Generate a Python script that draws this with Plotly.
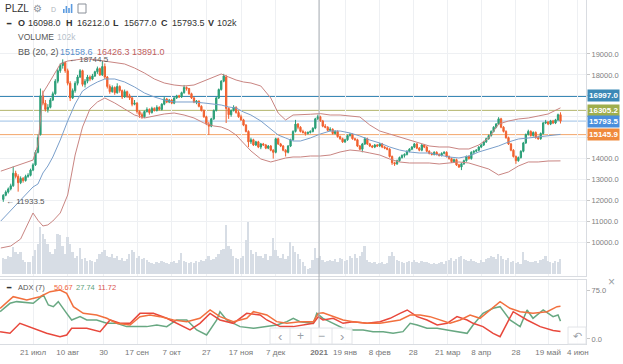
import numpy as np
import plotly.graph_objects as go

# ---------------- DATA ----------------
# Daily candles PLZL, trading sessions 2020-07-03 .. 2021-05-26 (one row per week)
opens = [
    12050,
    12250, 12400, 12550, 12700, 13300,
    13150, 12850, 13050, 12950, 13150,
    13200, 13450, 13700, 14300, 15150,
    17000, 16650, 16350, 16450, 16800,
    17100, 17700, 18200, 18450, 18600,
    18200, 17600, 16900, 17250, 17600,
    17900, 18200, 17550, 17700, 17900,
    17800, 17950, 18150, 18300, 18000,
    18400, 17900, 17450, 17200, 17400,
    17150, 17450, 17250, 16950, 17200,
    17000, 16900, 16600, 16650, 16250,
    16100, 16000, 16250, 16350, 16200,
    16400, 16300, 16450, 16350, 16600,
    16850, 16700, 16800, 16650, 16900,
    17000, 16950, 17150, 17400, 17350,
    17100, 16900, 16700, 16750, 16500,
    16300, 16000, 15650, 15550, 15900,
    16300, 16900, 17300, 17700,
    17900, 16400, 16100, 16300, 16450,
    16200, 16000, 15850, 15600, 15300,
    14800, 14900, 14650, 14800, 14550,
    14700, 14650, 14500, 14600, 14400,
    14300, 14950, 14700, 14600, 14400,
    14300, 14600, 14900, 15300, 15650,
    15500, 15300, 15250, 15200, 15250,
    15300, 15450, 15900,
    16000, 15800, 15550, 15500,
    15350, 15400, 15200, 15300, 15050,
    14950, 14800, 14900, 15100, 15150,
    14950, 14900, 14600, 14450, 14700,
    14950, 14700, 14600, 14550, 14650,
    14600, 14700, 14550, 14500, 14450,
    14100, 13800, 13750, 13900, 14050,
    14150, 14200, 14350, 14450,
    14550, 14700, 14500, 14400, 14650,
    14550, 14350, 14250, 14200,
    14300, 14200, 14150, 14250, 14300,
    14100, 14000, 13850, 13950, 13700,
    13600, 13750, 13900, 14100, 14000,
    14300, 14350, 14400, 14550, 14650,
    14800, 14950, 15100, 15300, 15500,
    15650, 15900, 15500, 15300, 15000,
    14700, 14400, 14100, 13900, 14050,
    14350, 14750, 15150, 15300,
    15100, 15250, 15000, 14950,
    15200, 15700, 15750, 15650, 15800,
    15700, 15850, 16098,
]
highs = [
    12300,
    12480, 12620, 12800, 13620, 13420,
    13250, 13150, 13120, 13230, 13300,
    13520, 13780, 14400, 15150, 17350,
    17250, 16800, 16600, 16900, 17200,
    17800, 18300, 18550, 18744.5, 18650,
    18300, 17700, 17350, 17700, 18000,
    18280, 18250, 17800, 18000, 17980,
    18050, 18200, 18400, 18350, 18650,
    18550, 17950, 17550, 17500, 17450,
    17600, 17500, 17300, 17300, 17250,
    17100, 16950, 16800, 16700, 16300,
    16200, 16300, 16450, 16400, 16480,
    16450, 16550, 16500, 16650, 16950,
    16900, 16850, 16850, 16950, 17050,
    17050, 17200, 17520, 17450, 17380,
    17150, 16950, 16800, 16780, 16550,
    16350, 16050, 15750, 15950, 16350,
    16950, 17350, 17750, 18050,
    18000, 16450, 16350, 16550, 16500,
    16300, 16100, 15900, 15650, 15350,
    15000, 14950, 14850, 14850, 14750,
    14750, 14700, 14650, 14650, 14450,
    15000, 15000, 14750, 14650, 14450,
    14650, 14950, 15350, 15850, 15700,
    15550, 15380, 15300, 15300, 15350,
    15500, 15950, 16100,
    16050, 15850, 15650, 15550,
    15500, 15450, 15350, 15350, 15100,
    15000, 14950, 15150, 15220, 15200,
    15000, 14950, 14650, 14750, 15030,
    15000, 14750, 14650, 14700, 14700,
    14750, 14750, 14600, 14550, 14500,
    14150, 13850, 13950, 14100, 14200,
    14250, 14400, 14500, 14600,
    14750, 14750, 14550, 14700, 14700,
    14600, 14400, 14300, 14350,
    14350, 14250, 14300, 14350, 14350,
    14150, 14050, 14000, 14000, 13750,
    13800, 13950, 14150, 14150, 14350,
    14400, 14450, 14600, 14700, 14850,
    15000, 15150, 15350, 15550, 15700,
    15980, 15950, 15550, 15350, 15050,
    14750, 14450, 14150, 14100, 14400,
    14800, 15200, 15380, 15350,
    15300, 15300, 15100, 15250,
    15750, 15850, 15800, 15850, 15850,
    15900, 16150, 16212,
]
lows = [
    11933.5,
    12200, 12330, 12480, 12650, 13050,
    12420, 12780, 12850, 12900, 13080,
    13150, 13400, 13650, 14250, 15100,
    16550, 16250, 16200, 16400, 16750,
    17050, 17600, 18100, 18300, 18100,
    17500, 16750, 16850, 17150, 17500,
    17850, 17450, 17400, 17600, 17700,
    17750, 17900, 18050, 17950, 17950,
    17800, 17350, 17100, 17150, 17050,
    17100, 17150, 16850, 16900, 16900,
    16800, 16500, 16550, 16150, 15950,
    15900, 15950, 16200, 16100, 16150,
    16250, 16250, 16300, 16300, 16550,
    16650, 16650, 16600, 16600, 16850,
    16900, 16900, 17100, 17250, 17050,
    16850, 16650, 16600, 16450, 16250,
    15950, 15600, 15130, 15500, 15850,
    16250, 16850, 17250, 17650,
    15700, 15900, 16000, 16250, 16150,
    15950, 15800, 15550, 15250, 14550,
    14700, 14600, 14600, 14500, 14450,
    14600, 14450, 14450, 14350, 14000,
    14250, 14650, 14550, 14350, 14100,
    14250, 14550, 14850, 15250, 15400,
    15250, 15200, 15100, 15150, 15200,
    15250, 15400, 15850,
    15750, 15500, 15450, 15300,
    15300, 15150, 15150, 15000, 14900,
    14750, 14750, 14850, 15050, 14900,
    14850, 14550, 14400, 14300, 14650,
    14650, 14550, 14500, 14500, 14550,
    14550, 14500, 14450, 14400, 14050,
    13700, 13650, 13700, 13850, 14000,
    14050, 14150, 14300, 14400,
    14500, 14450, 14350, 14350, 14500,
    14300, 14200, 14150, 14150,
    14150, 14100, 14100, 14200, 14050,
    13950, 13800, 13800, 13650, 13550,
    13450, 13700, 13850, 13950, 13950,
    14200, 14300, 14350, 14500, 14600,
    14750, 14900, 15050, 15250, 15450,
    15600, 15450, 15250, 14950, 14650,
    14350, 14050, 13750, 13850, 14000,
    14300, 14700, 15100, 15050,
    15050, 14950, 14900, 14900,
    15150, 15650, 15600, 15600, 15650,
    15650, 15800, 15677,
]
closes = [
    12250,
    12400, 12550, 12700, 13300, 13150,
    12850, 13050, 12950, 13150, 13200,
    13450, 13700, 14300, 15000, 17000,
    16650, 16350, 16450, 16800, 17100,
    17700, 18200, 18450, 18600, 18200,
    17600, 16900, 17250, 17600, 17900,
    18200, 17550, 17700, 17900, 17800,
    17950, 18150, 18300, 18000, 18400,
    17900, 17450, 17200, 17400, 17150,
    17450, 17250, 16950, 17200, 17000,
    16900, 16600, 16650, 16250, 16100,
    16000, 16250, 16350, 16200, 16400,
    16300, 16450, 16350, 16600, 16850,
    16700, 16800, 16650, 16900, 17000,
    16950, 17150, 17400, 17350, 17100,
    16900, 16700, 16750, 16500, 16300,
    16000, 15650, 15550, 15900, 16300,
    16900, 17300, 17700, 17950,
    16400, 16100, 16300, 16450, 16200,
    16000, 15850, 15600, 15300, 14800,
    14900, 14650, 14800, 14550, 14700,
    14650, 14500, 14600, 14400, 14300,
    14950, 14700, 14600, 14400, 14300,
    14600, 14900, 15300, 15650, 15500,
    15300, 15250, 15200, 15250, 15300,
    15450, 15900, 16000,
    15800, 15550, 15500, 15350,
    15400, 15200, 15300, 15050, 14950,
    14800, 14900, 15100, 15150, 14950,
    14900, 14600, 14450, 14700, 14950,
    14700, 14600, 14550, 14650, 14600,
    14700, 14550, 14500, 14450, 14100,
    13800, 13750, 13900, 14050, 14150,
    14200, 14350, 14450, 14550,
    14700, 14500, 14400, 14650, 14550,
    14350, 14250, 14200, 14300,
    14200, 14150, 14250, 14300, 14100,
    14000, 13850, 13950, 13700, 13600,
    13750, 13900, 14100, 14000, 14300,
    14350, 14400, 14550, 14650, 14800,
    14950, 15100, 15300, 15500, 15650,
    15900, 15500, 15300, 15000, 14700,
    14400, 14100, 13900, 14050, 14350,
    14750, 15150, 15300, 15100,
    15250, 15000, 14950, 15200,
    15700, 15750, 15650, 15800, 15700,
    15850, 16098, 15793.5,
]
# volume, thousands of shares
volumes = [
    109,
    102, 122, 116, 184, 150,
    136, 150, 95, 82, 82,
    82, 122, 163, 204, 320,
    272, 238, 204, 150, 136,
    170, 272, 265, 190, 136,
    252, 204, 150, 109, 122,
    177, 102, 109, 88, 95,
    88, 82, 102, 136, 150,
    163, 122, 116, 136, 109,
    122, 95, 109, 88, 102,
    136, 163, 150, 109, 122,
    102, 109, 95, 82, 75,
    68, 82, 75, 88, 82,
    75, 68, 82, 88, 75,
    95, 143, 88, 82, 75,
    82, 75, 88, 82, 95,
    88, 102, 122, 95, 102,
    116, 136, 163, 170,
    333, 190, 170, 122, 109,
    102, 109, 122, 231, 354,
    163, 136, 150, 122, 122,
    109, 136, 95, 122, 245,
    163, 122, 109, 136, 102,
    122, 218, 190, 150, 136,
    102, 82, 54, 34, 41,
    95, 177, 109,
    122, 95, 82, 88,
    95, 88, 102, 82, 109,
    102, 88, 95, 122, 109,
    136, 109, 122, 150, 190,
    95, 82, 75, 82, 68,
    75, 82, 68, 75, 122,
    150, 122, 95, 88, 82,
    75, 82, 88, 82,
    95, 82, 75, 88, 82,
    82, 75, 68, 75,
    68, 75, 82, 68, 88,
    95, 109, 88, 102, 116,
    122, 102, 95, 88, 102,
    88, 82, 75, 95, 82,
    102, 109, 122, 116, 102,
    136, 122, 102, 95, 109,
    82, 88, 75, 82, 68,
    150, 95, 88, 82,
    82, 88, 75, 95,
    102, 122, 88, 82, 75,
    88, 82, 102,
]

# Bollinger Bands (20, 2), read at session numbers
bb_idx = [-1, 3, 7, 12, 14, 16, 18, 20, 23, 26,
          29, 32, 35, 38, 41, 45, 49, 53, 57, 61,
          65, 69, 73, 77, 81, 85, 88, 91, 94, 97,
          100, 104, 108, 111, 114, 117, 120, 124, 128, 132,
          136, 140, 144, 148, 152, 156, 160, 164, 168, 172,
          176, 180, 184, 188, 192, 196, 200, 204, 208, 212,
          216, 220, 225]
bb_upper = [13400, 13570, 13750, 13930, 14650, 17140, 17520, 17900, 18520, 18665,
            18713, 18761, 18761, 18713, 18665, 18618, 18522, 18330, 18090, 17805,
            17614, 17518, 17470, 17518, 17710, 17900, 18044, 17900, 17757, 17662,
            17614, 17470, 16897, 16180, 15845, 16084, 16084, 16120, 16150, 16084,
            16084, 16036, 15989, 15606, 15319, 15176, 15033, 14889, 14746, 14603,
            14555, 14555, 14460, 14460, 14650, 14985, 15650, 15797, 15893, 15941,
            16036, 16132, 16426.3]
bb_mid = [11017, 11495, 12021, 12643, 12786, 13312, 13646, 14077, 14889, 15797,
          16610, 17231, 17470, 17662, 17805, 17805, 17662, 17423, 17136, 16945,
          16801, 16706, 16706, 16706, 16658, 16610, 16562, 16467, 16419, 16228,
          16084, 15797, 15415, 15128, 14985, 14841, 14841, 14985, 15176, 15319,
          15319, 15224, 15080, 14889, 14746, 14555, 14411, 14316, 14268, 14268,
          14172, 14077, 14029, 14124, 14316, 14460, 14603, 14794, 14937, 14985,
          15033, 15080, 15158.6]
bb_lower = [9727, 9822, 10157, 11400, 11050, 10779, 10830, 11017, 11400, 12260,
            14172, 15511, 16371, 16706, 16897, 16658, 16371, 16084, 15941, 16036,
            16132, 16180, 16084, 15941, 15702, 15559, 15511, 15367, 15128, 14746,
            14364, 13981, 13838, 13933, 14029, 14077, 14077, 14124, 14124, 14172,
            14316, 14411, 14364, 14268, 14172, 13981, 13838, 13790, 13790, 13790,
            13742, 13790, 13838, 13790, 13646, 13503, 13216, 13360, 13646, 13838,
            13838, 13885, 13891.0]

# ADX (7): ADX, +DI, -DI read at session numbers
adx_idx = [-1.3, 4, 9.5, 14.8, 18.9, 22.9, 25.6, 28.3, 32.3, 37.7,
           41.8, 45.8, 51.2, 55.2, 59.2, 63.3, 68.7, 74.1, 79.4, 83.5,
           87.5, 92.9, 98.3, 101, 106.4, 110.4, 114.5, 119.8, 125.2, 127.2,
           129.1, 133.2, 137.2, 141.2, 146.9, 152.1, 156.2, 160.2, 164.3, 168.3,
           172.3, 176.4, 180.4, 184.5, 188.5, 192.5, 196.6, 200.6, 204.6, 208.7,
           213.9, 219.6, 223.6, 225]
adx_val = [47.6, 65.7, 60.6, 65.7, 73.5, 76, 70.9, 50.2, 39.8, 37.3,
           32.1, 24.3, 21.7, 34.7, 37.3, 34.7, 29.5, 26.9, 32.1, 45,
           34.7, 26.9, 32.1, 42.4, 37.3, 26.9, 24.3, 26.9, 26.9, 39.8,
           40.8, 34.7, 29.5, 26.9, 24.3, 24.3, 26.9, 29.5, 37.3, 37.3,
           34.7, 29.5, 24.3, 29.5, 37.3, 32.1, 45, 58, 47.6, 42.4,
           39.8, 42.4, 50.2, 50.67]
pdi_idx = [-1.3, 2.7, 5.4, 12.1, 16.2, 18.2, 20.2, 22.2, 25.6, 27.6,
           31, 33.7, 37.7, 41.8, 45.8, 49.8, 53.9, 57.9, 62, 66,
           70, 74.1, 78.1, 82.1, 86.2, 87.5, 90.2, 95.6, 101, 106.4,
           110.4, 114.5, 117.1, 119.8, 125.2, 126.6, 129.1, 133.2, 137.2, 141.2,
           145.3, 149.3, 153.4, 157.4, 161.4, 164.3, 167.1, 171.1, 175.2, 179.2,
           183.2, 187.3, 189.7, 193.7, 197.8, 200.6, 204.6, 208.7, 211.5, 213.9,
           218, 222, 224, 225]
pdi_val = [42.4, 55.4, 58, 55.4, 68.3, 52.8, 50.2, 58, 39.8, 29.5,
           34.7, 29.5, 29.5, 24.3, 24.3, 19.2, 19.2, 19.2, 21.7, 19.2,
           29.5, 29.5, 14, 6.2, 29.5, 42.4, 29.5, 19.2, 16.6, 19.2,
           21.7, 26.9, 32.1, 26.9, 24.3, 39.8, 32.1, 24.3, 16.6, 14,
           14, 11.4, 11.4, 8.8, 11.4, 24.3, 21.7, 16.6, 16.6, 14,
           11.4, 8.8, 21.7, 39.8, 47.6, 50.2, 29.5, 19.2, 45, 32.1,
           45, 34.7, 37.3, 27.74]
mdi_idx = [-1.3, 2.7, 6.7, 12.1, 17.5, 22.9, 25.6, 27.6, 33.7, 39.1,
           43.1, 47.1, 51.2, 55.2, 60.6, 66, 71.4, 75.4, 79.4, 83.5,
           87.5, 92.9, 98.3, 103.7, 106.4, 111.8, 117.1, 125.2, 127.2, 129.1,
           133.2, 137.2, 141.2, 146.9, 152.1, 156.2, 160.2, 163.1, 167.1, 171.1,
           175.2, 179.2, 183.2, 187.3, 189.7, 193.7, 197.8, 200.6, 203.4, 205.9,
           211.5, 216.8, 222, 225]
mdi_val = [11.4, 8.8, 24.3, 16.6, 8.8, 3.6, 6.2, 16.6, 16.6, 11.4,
           29.5, 24.3, 24.3, 39.8, 39.8, 32.1, 21.7, 14, 24.3, 39.8,
           29.5, 24.3, 39.8, 37.3, 29.5, 19.2, 19.2, 24.3, 34.5, 29.5,
           32.1, 24.3, 26.9, 24.3, 26.9, 32.1, 39.8, 45, 34.7, 29.5,
           21.7, 24.3, 34.7, 29.5, 24.3, 19.2, 8.8, 3.6, 24.3, 42.4,
           29.5, 19.2, 13.2, 11.72]

# price levels drawn as horizontal lines with tags
level_values = [16997.0, 16305.2, 15793.5, 15145.9]
level_colors = ['#3b89b6', '#9fae4c', '#4b8fdc', '#f08a3c']
level_widths = [2, 1, 1, 1]
level_linecolors = ['#3b89b6', '#b2b46a', '#9cc0e6', '#f3a66a']

price_ticks = [10000, 11000, 12000, 13000, 14000, 15000, 16000, 17000, 18000, 19000]
hidden_price_ticks = [15000, 16000, 17000]   # covered by the level tags
adx_ticks = [0, 75]

tick_dates = ['2020-07-21', '2020-08-10', '2020-08-30', '2020-09-17', '2020-10-07',
              '2020-10-27', '2020-11-17', '2020-12-07', '2021-01-01', '2021-01-19',
              '2021-02-08', '2021-02-28', '2021-03-21', '2021-04-08', '2021-04-28',
              '2021-05-19', '2021-06-04']
tick_text = ['21 июл', '10 авг', '30', '17 сен', '7 окт', '27', '17 ноя', '7 дек',
             '<b>2021</b>', '19 янв', '8 фев', '28', '21 мар', '8 апр', '28',
             '19 май', '4 июн']
first_session = '2020-07-03'
holidays = ['2020-11-04', '2020-12-31', '2021-01-01', '2021-01-07', '2021-02-23',
            '2021-03-08', '2021-05-03', '2021-05-10']

# ---------------- FIGURE ----------------
W, H = 623, 364
ML, MR, MT, MB = 0, 37, 0, 20
PW, PH = W - ML - MR, H - MT - MB


def px(xp):
    return xp / PW


def py(yp):
    return 1 - yp / PH


n = len(closes)
idx = list(range(n))


def session_pos(d):
    c = int(np.busday_count(first_session, d, holidays=holidays))
    return c if np.is_busday(d, holidays=holidays) else c - 0.5


tick_pos = [session_pos(d) for d in tick_dates]

GREEN = '#2b9f78'
RED = '#f1612f'
FONT = 'Liberation Sans, Arial, sans-serif'

fig = go.Figure()

# volume (base axis of main pane)
fig.add_trace(go.Bar(x=idx, y=volumes, xaxis='x', yaxis='y', width=0.72,
                     marker=dict(color='#d7dde5', line=dict(width=0)),
                     hoverinfo='skip', showlegend=False))
# Bollinger bands
fig.add_trace(go.Scatter(x=bb_idx, y=bb_upper, xaxis='x', yaxis='y2', mode='lines',
                         line=dict(color='#c98582', width=1), hoverinfo='skip', showlegend=False))
fig.add_trace(go.Scatter(x=bb_idx, y=bb_lower, xaxis='x', yaxis='y2', mode='lines',
                         line=dict(color='#c98582', width=1), hoverinfo='skip', showlegend=False))
fig.add_trace(go.Scatter(x=bb_idx, y=bb_mid, xaxis='x', yaxis='y2', mode='lines',
                         line=dict(color='#7a9fcb', width=1), hoverinfo='skip', showlegend=False))
# candles
fig.add_trace(go.Candlestick(x=idx, open=opens, high=highs, low=lows, close=closes,
                             xaxis='x', yaxis='y2', whiskerwidth=0,
                             increasing=dict(line=dict(color=GREEN, width=1), fillcolor=GREEN),
                             decreasing=dict(line=dict(color=RED, width=1), fillcolor=RED),
                             hoverinfo='skip', showlegend=False))
# ADX pane
fig.add_trace(go.Scatter(x=pdi_idx, y=pdi_val, xaxis='x2', yaxis='y3', mode='lines',
                         line=dict(color='#68a882', width=1.5), hoverinfo='skip', showlegend=False))
fig.add_trace(go.Scatter(x=mdi_idx, y=mdi_val, xaxis='x2', yaxis='y3', mode='lines',
                         line=dict(color='#e8483c', width=1.5), hoverinfo='skip', showlegend=False))
fig.add_trace(go.Scatter(x=adx_idx, y=adx_val, xaxis='x2', yaxis='y3', mode='lines',
                         line=dict(color='#f2703e', width=1.5), hoverinfo='skip', showlegend=False))

main_dom = [1 - 276 / PH, 1]
adx_dom = [0, 64 / PH]
xr = [-1.33, 235.3]
GRID = '#eef0f3'
AXL = '#d9dce1'
TICKF = dict(family=FONT, size=7.5, color='#808080')

fig.update_layout(
    width=W, height=H, margin=dict(l=ML, r=MR, t=MT, b=MB),
    paper_bgcolor='white', plot_bgcolor='white',
    font=dict(family=FONT, size=9, color='#555'),
    showlegend=False, boxgap=0.25, bargap=0,
    xaxis=dict(domain=[0, 1], anchor='y', range=xr, tickvals=tick_pos, showticklabels=False,
               showgrid=True, gridcolor=GRID, zeroline=False, ticks='', showline=True,
               linecolor=AXL, rangeslider=dict(visible=False)),
    xaxis2=dict(domain=[0, 1], anchor='y3', matches='x', range=xr, tickvals=tick_pos,
                ticktext=tick_text, showgrid=True, gridcolor=GRID, zeroline=False,
                ticks='', tickfont=dict(family=FONT, size=8, color='#777'), showline=True,
                mirror=True, linecolor=AXL, rangeslider=dict(visible=False)),
    yaxis=dict(domain=main_dom, anchor='x', range=[-14, 1863], visible=False,
               showgrid=False, zeroline=False),
    yaxis2=dict(domain=main_dom, anchor='x', overlaying='y', side='right',
                range=[8388, 21581], tickvals=price_ticks,
                ticktext=['' if v in hidden_price_ticks else '%.1f' % v for v in price_ticks],
                showgrid=True, gridcolor=GRID, zeroline=False, ticks='outside', ticklen=3,
                tickcolor='#c8c8c8', tickfont=TICKF,
                showline=True, linecolor=AXL),
    yaxis3=dict(domain=adx_dom, anchor='x2', side='right', range=[-7.8, 91.6],
                tickvals=adx_ticks, ticktext=['%.1f' % v for v in adx_ticks],
                showgrid=False, zeroline=False, ticks='outside', ticklen=3,
                tickcolor='#c8c8c8', tickfont=TICKF,
                showline=True, mirror=True, linecolor=AXL),
)

shapes = []
for v, lc, w in zip(level_values, level_linecolors, level_widths):
    shapes.append(dict(type='line', xref='paper', x0=0, x1=1, yref='y2', y0=v, y1=v,
                       line=dict(color=lc, width=w), layer='below'))
# crosshair at the year boundary tick
x2021 = tick_pos[tick_text.index('<b>2021</b>')]
shapes.append(dict(type='line', xref='x', x0=x2021, x1=x2021, yref='paper', y0=0, y1=1,
                   line=dict(color='#a9aeb4', width=1)))
# navigation buttons
shapes.append(dict(type='rect', xref='paper', yref='paper', x0=px(270), x1=px(352),
                   y0=py(344), y1=py(328), fillcolor='rgba(255,255,255,0.85)',
                   line=dict(color='#e2e4e8', width=1)))
for sx in (290, 311, 332):
    shapes.append(dict(type='line', xref='paper', yref='paper', x0=px(sx), x1=px(sx),
                       y0=py(344), y1=py(328), line=dict(color='#e2e4e8', width=1)))
shapes.append(dict(type='rect', xref='paper', yref='paper', x0=px(568), x1=px(586),
                   y0=py(344), y1=py(327), fillcolor='rgba(255,255,255,0.85)',
                   line=dict(color='#e2e4e8', width=1)))
# toolbar icons
for k, hgt in enumerate([4, 7, 5, 9]):
    shapes.append(dict(type='rect', xref='paper', yref='paper',
                       x0=px(63 + 2.6 * k), x1=px(64.6 + 2.6 * k),
                       y0=py(13), y1=py(13 - hgt), fillcolor='#5b9be0', line=dict(width=0)))
shapes.append(dict(type='rect', xref='paper', yref='paper', x0=px(78), x1=px(86),
                   y0=py(13), y1=py(4), fillcolor='rgba(0,0,0,0)',
                   line=dict(color='#8a9099', width=1)))
fig.update_layout(shapes=shapes)

ann = []


def txt(xp, yp, s, color='#333', size=9, anchor='left'):
    ann.append(dict(xref='paper', yref='paper', x=px(xp), y=py(yp), text=s,
                    showarrow=False, xanchor=anchor, yanchor='middle', borderpad=0,
                    font=dict(family=FONT, size=size, color=color)))


# header
txt(4, 8, 'PLZL', '#333', 10)
txt(38, 8, '⚙', '#8a9099', 10, 'center')
txt(53, 9, 'D', '#b0b5bb', 7, 'center')
txt(5, 23, '<b>━</b>', '#333', 7)
txt(17, 23, '<b>O</b>', '#333')
txt(27, 23, '16098.0', '#333')
txt(65, 23, '<b>H</b>', '#333')
txt(76, 23, '16212.0', '#333')
txt(112, 23, '<b>L</b>', '#333')
txt(123, 23, '15677.0', '#333')
txt(160, 23, '<b>C</b>', '#333')
txt(171, 23, '15793.5', '#333')
txt(207, 23, '<b>V</b>', '#333')
txt(216, 23, '102k', '#333')
txt(17, 37, 'VOLUME', '#555', 8.5)
txt(56, 37, '102k', '#b7bfcb', 8.5)
txt(17, 52, 'BB (20, 2)', '#555')
txt(59, 52, '15158.6', '#5b8fca')
txt(96, 52, '16426.3', '#c0605e')
txt(131, 52, '13891.0', '#c0605e')
# ADX legend
txt(5, 287, '<b>━</b>', '#333', 7)
txt(17, 287, 'ADX (7)', '#555', 7.5)
txt(53, 287, '50.67', '#f0643c', 7.5)
txt(75, 287, '27.74', '#62a37c', 7.5)
txt(97, 287, '11.72', '#d9534f', 7.5)

# max / min markers
imax = int(np.argmax(highs))
imin = int(np.argmin(lows))
ann.append(dict(xref='x', yref='y2', x=imax, y=highs[imax], text='← %.1f' % highs[imax],
                showarrow=False, xanchor='left', yanchor='middle', xshift=4,
                font=dict(family=FONT, size=8, color='#555')))
ann.append(dict(xref='x', yref='y2', x=imin, y=lows[imin], text='← %.1f' % lows[imin],
                showarrow=False, xanchor='left', yanchor='middle', xshift=1,
                font=dict(family=FONT, size=8, color='#555')))

# level tags
for v, c in zip(level_values, level_colors):
    ann.append(dict(xref='paper', yref='y2', x=1, y=v, text='<b>%.1f</b>' % v,
                    showarrow=False, xanchor='left', yanchor='middle', xshift=1,
                    bgcolor=c, borderpad=1, font=dict(family=FONT, size=8, color='white')))

# buttons' symbols
txt(280, 336, '‹', '#9aa0a6', 13, 'center')
txt(300.5, 336, '+', '#9aa0a6', 12, 'center')
txt(321.5, 336, '−', '#9aa0a6', 12, 'center')
txt(342, 336, '›', '#9aa0a6', 13, 'center')
txt(577, 335.5, '↶', '#9aa0a6', 11, 'center')
txt(611, 282, '×', '#9aa0a6', 12, 'center')

fig.update_layout(annotations=ann)
fig.write_html('out.html', config={'displayModeBar': False},
               post_script="document.body.style.margin='0';"
                           "document.body.style.overflow='hidden';")
